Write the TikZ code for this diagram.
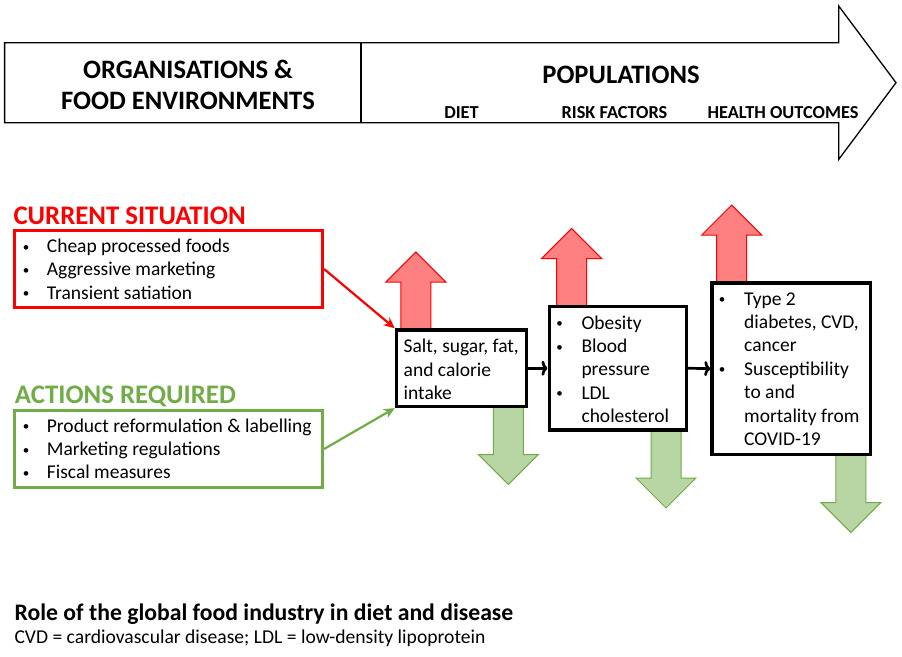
\documentclass[tikz,border=0pt]{standalone}
\usepackage{fontspec}
\setmainfont{Carlito}
\usetikzlibrary{arrows,arrows.meta}
\definecolor{hotred}{RGB}{255,0,0}
\definecolor{redfill}{RGB}{255,128,128}
\definecolor{leafgreen}{RGB}{112,173,71}
\definecolor{greenfill}{RGB}{183,214,163}
\newcommand{\riseArrow}[2]{\draw[draw=hotred,fill=redfill,line width=1pt] (#1-15,#2) -- (#1-15,#2-48) -- (#1-30,#2-48) -- (#1,#2-78) -- (#1+30,#2-48) -- (#1+15,#2-48) -- (#1+15,#2) -- cycle;}
\newcommand{\fallArrow}[2]{\draw[draw=leafgreen,fill=greenfill,line width=1pt] (#1-15,#2) -- (#1-15,#2+48) -- (#1-30,#2+48) -- (#1,#2+78) -- (#1+30,#2+48) -- (#1+15,#2+48) -- (#1+15,#2) -- cycle;}

\begin{document}
\begin{tikzpicture}[x=1pt,y=-1pt,
    item/.style={anchor=base west,inner sep=0pt,font=\fontsize{19.5}{24}\selectfont},
    dot/.style={anchor=base,inner sep=0pt,font=\fontsize{13}{14}\selectfont},
    head/.style={anchor=base,inner sep=0pt,font=\bfseries\fontsize{26.6}{30}\selectfont},
    sub/.style={anchor=base,inner sep=0pt,font=\bfseries\fontsize{18.3}{20}\selectfont},
    stage/.style={draw,line width=3.3pt,fill=white,inner sep=0pt},
    listbox/.style={draw,line width=2.7pt,inner sep=0pt,minimum width=308.5pt,minimum height=77.5pt},
    label/.style={anchor=base west,inner sep=0pt,font=\bfseries\fontsize{26.8}{30}\selectfont}]
  \useasboundingbox (0,0) rectangle (902,656);

  % big arrow across the top
  \draw[line width=1.3pt] (4.6,42.7) -- (838.7,42.7) -- (838.7,6) -- (896,82.7) -- (838.7,159.4) -- (838.7,122.7) -- (4.6,122.7) -- cycle;
  \draw[line width=1.3pt] (361,42.7) -- (361,122.7);
  \node[head] (org1) at (188,78.5) {ORGANISATIONS \&};
  \node[head] (org2) at (188,109) {FOOD ENVIRONMENTS};
  \node[head] (pop) at (621,83.5) {POPULATIONS};
  \node[sub] (diettag) at (461.5,118) {DIET};
  \node[sub] (risktag) at (614.5,118) {RISK FACTORS};
  \node[sub] (outtag) at (783,118) {HEALTH OUTCOMES};

  % up and down arrows
  \riseArrow{415.8}{330}
  \riseArrow{571.6}{306.5}
  \riseArrow{731.7}{283}
  \fallArrow{508.3}{406.5}
  \fallArrow{666}{430}
  \fallArrow{850.8}{454.5}

  % the three stages
  \node[stage,minimum width=130pt,minimum height=76.5pt] (diet) at (461.4,368.2) {};
  \node[stage,minimum width=137pt,minimum height=123.5pt] (risk) at (617.7,368.2) {};
  \node[stage,minimum width=158.5pt,minimum height=171.5pt] (health) at (791.2,368.7) {};
  \foreach \txt [count=\i] in {{Salt, sugar, fat,},and calorie,intake}
    \node[item] (diet\i) at (403.5,{352.7+23.3*(\i-1)}) {\txt};
  \foreach \txt [count=\i] in {Obesity,Blood,pressure,LDL,cholesterol}
    \node[item] (risk\i) at (581.3,{329.2+23.3*(\i-1)}) {\txt};
  \foreach \i in {1,2,4}
    \node[dot] (riskb\i) at (559.5,{327.8+23.3*(\i-1)}) {\textbullet};
  \foreach \txt [count=\i] in {Type 2,{diabetes, CVD,},cancer,Susceptibility,to and,mortality from,COVID-19}
    \node[item] (health\i) at (744,{305+23.4*(\i-1)}) {\txt};
  \foreach \i in {1,4}
    \node[dot] (healthb\i) at (722,{303.6+23.4*(\i-1)}) {\textbullet};

  % current situation and actions
  \node[label,text=hotred] (curtitle) at (13.3,224.6) {CURRENT SITUATION};
  \node[listbox,draw=hotred] (cur) at (168.5,269) {};
  \foreach \txt [count=\i] in {Cheap processed foods,Aggressive marketing,Transient satiation} {
    \node[item] (cur\i) at (46.7,{252.5+23.3*(\i-1)}) {\txt};
    \node[dot] (curb\i) at (26,{251.1+23.3*(\i-1)}) {\textbullet};
  }
  \node[label,text=leafgreen] (acttitle) at (14.7,403.6) {ACTIONS REQUIRED};
  \node[listbox,draw=leafgreen] (act) at (168.5,449) {};
  \foreach \txt [count=\i] in {Product reformulation \& labelling,Marketing regulations,Fiscal measures} {
    \node[item] (act\i) at (46.7,{432.3+23.1*(\i-1)}) {\txt};
    \node[dot] (actb\i) at (26,{430.9+23.1*(\i-1)}) {\textbullet};
  }

  % connectors
  \draw[-{Stealth[length=11pt,width=10pt]},hotred,line width=2.2pt] (cur.east) -- (diet.north west);
  \draw[-{Stealth[length=11pt,width=10pt]},leafgreen,line width=2.2pt] (act.east) -- (diet.south west);
  \draw[-{To[length=6pt,width=15pt]},line width=2.7pt] (diet.east) -- (risk.west);
  \draw[-{To[length=6pt,width=15pt]},line width=2.7pt] (risk.east) -- (health.west);

  % caption
  \node[anchor=base west,inner sep=0pt,font=\bfseries\fontsize{23.7}{28}\selectfont] (caption) at (14.5,620.8) {Role of the global food industry in diet and disease};
  \node[anchor=base west,inner sep=0pt,font=\fontsize{19.6}{22}\selectfont] (abbrev) at (14.3,643) {CVD = cardiovascular disease; LDL = low-density lipoprotein};
\end{tikzpicture}
\end{document}
